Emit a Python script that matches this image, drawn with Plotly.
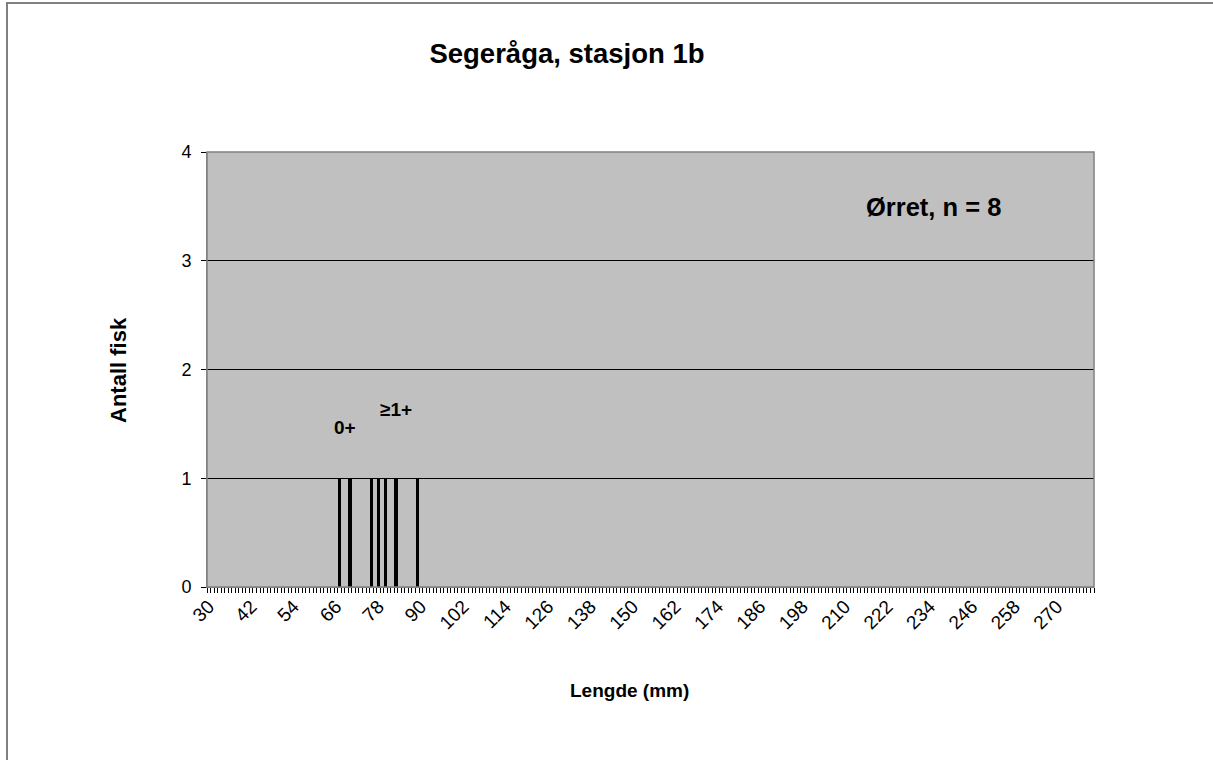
import plotly.graph_objects as go

# Data
lengths = [67, 70, 76, 78, 80, 83, 89]
counts = [1, 1, 1, 1, 1, 1, 1]
x_min, x_max = 30, 280
tick_labels = list(range(30, 271, 12))
y_ticks = [0, 1, 2, 3, 4]

W, H = 1213, 760
L, R, T, B = 207, 119, 152, 173
pw, ph = W - L - R, H - T - B

fig = go.Figure()
fig.add_trace(go.Bar(x=lengths, y=counts, width=0.95,
                     marker=dict(color="black", line=dict(width=0)),
                     showlegend=False))

font = "Liberation Sans, Arial, sans-serif"
fig.update_layout(
    width=W, height=H,
    margin=dict(l=L, r=R, t=T, b=B),
    paper_bgcolor="white", plot_bgcolor="#c0c0c0",
    font=dict(family=font, color="black", size=18),
    title=dict(text="<b>Segeråga, stasjon 1b</b>", x=567 / W, xanchor="center",
               y=1 - 53 / H, yanchor="middle", font=dict(size=27.5)),
    xaxis=dict(range=[x_min - 0.5, x_max + 0.5], tickmode="array",
               tickvals=tick_labels, ticktext=[str(v) for v in tick_labels],
               tickangle=-45, ticks="", showgrid=False, zeroline=False,
               showline=True, linecolor="#808080", linewidth=1,
               tickfont=dict(size=19),
               minor=dict(ticks="outside", tickmode="linear", tick0=x_min - 0.5,
                          dtick=1, ticklen=5, tickcolor="black", showgrid=False)),
    yaxis=dict(range=[0, 4], tickvals=y_ticks, ticks="outside", ticklen=5,
               tickcolor="black", showgrid=True, gridcolor="black", gridwidth=1,
               zeroline=False, showline=True, linecolor="#808080",
               ticklabelstandoff=6, tickfont=dict(size=18)),
    bargap=0,
)

# plot area border
fig.add_shape(type="rect", xref="paper", yref="paper", x0=0, x1=1, y0=0, y1=1,
              line=dict(color="#808080", width=1.5), layer="above")
# outer chart border (left and top)
fig.add_shape(type="rect", xref="paper", yref="paper",
              x0=(7 - L) / pw, x1=(W + 20 - L) / pw,
              y0=-(H + 20 - T - ph) / ph, y1=1 + (T - 3) / ph,
              line=dict(color="#808080", width=2))

def px(xp):
    return (xp - L) / pw

def py(yp):
    return 1 - (yp - T) / ph

def note(text, x, y, size, angle=0):
    fig.add_annotation(text=text, x=px(x), y=py(y), xref="paper", yref="paper",
                       xanchor="center", yanchor="middle", textangle=angle,
                       showarrow=False, font=dict(size=size))

note("<b>Lengde (mm)</b>", 629, 690, 19)
note("<b>Antall fisk</b>", 118, 370, 22, -90)
note("<b>Ørret, n = 8</b>", 933, 207, 25.5)
note("<b>0+</b>", 345, 427, 19)
note("<b>≥1+</b>", 396, 409, 19)

fig.write_html("out.html", config={"displayModeBar": False},
               post_script="document.body.style.margin='0px';")
